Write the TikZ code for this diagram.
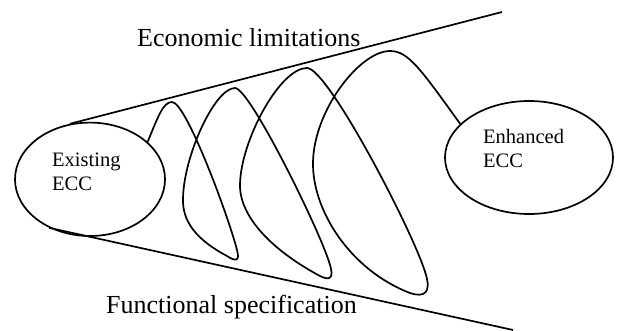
\documentclass[tikz,border=0pt]{standalone}
\usepackage{fontspec}
\setmainfont{Liberation Serif}
\usetikzlibrary{shapes.geometric}
\begin{document}
\begin{tikzpicture}[x=1pt,y=-1pt,
  line/.style={line width=1.7pt,line join=round},
  oval/.style={ellipse,draw,line width=1.7pt,inner sep=0pt},
  biglabel/.style={anchor=base west,inner sep=0pt,font=\fontsize{26}{30}\selectfont},
  smalllabel/.style={anchor=base west,inner sep=0pt,font=\fontsize{20.5}{23}\selectfont}]
\useasboundingbox (0,0) rectangle (620,331);
\node[oval,minimum width=150pt,minimum height=113.4pt] (ex) at (90,179.3) {};
\node[oval,minimum width=168pt,minimum height=113pt] (en) at (529,157.5) {};
\node[smalllabel] (ex1) at (52,167) {Existing};
\node[smalllabel] (ex2) at (52,190) {ECC};
\node[smalllabel] (en1) at (483,144) {Enhanced};
\node[smalllabel] (en2) at (483,167.5) {ECC};
\node[biglabel] (econ) at (137,46.5) {Economic limitations};
\node[biglabel] (func) at (106,313) {Functional specification};
\coordinate (upEnd) at (502,12);
\coordinate (loEnd) at (513,330);
\draw[line] (ex.110) -- (upEnd);
\draw[line] (ex.230) -- (loEnd);
\draw[line] (ex.33)
  .. controls (158,117) and (163,102) .. (172,102)
  .. controls (186,102) and (228,215) .. (237,250)
  .. controls (240,261) and (236,262) .. (227,256)
  .. controls (197,240) and (182,222) .. (183,198)
  .. controls (184,155) and (215,88) .. (235,88)
  .. controls (250,88) and (322,235) .. (330,265)
  .. controls (334,278) and (330,281) .. (320,276)
  .. controls (275,252) and (239,218) .. (240,184)
  .. controls (241,140) and (280,68) .. (307,68)
  .. controls (328,68) and (415,235) .. (426,275)
  .. controls (431,292) and (425,298) .. (410,293)
  .. controls (350,270) and (312,210) .. (313,162)
  .. controls (314,110) and (360,51) .. (390,51)
  .. controls (408,51) and (420,68) .. (en.154);
\end{tikzpicture}
\end{document}
